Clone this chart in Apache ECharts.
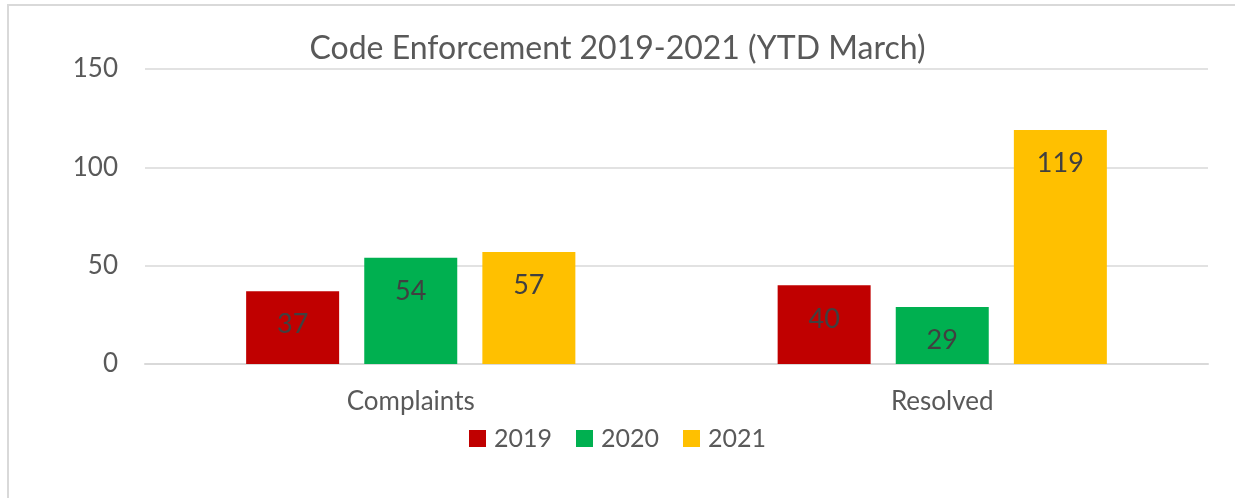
<!DOCTYPE html>
<html>
<head>
<meta charset="utf-8">
<script src="https://cdn.jsdelivr.net/npm/echarts@6/dist/echarts.min.js"></script>
<style>
  html, body { margin: 0; padding: 0; background: #fff; }
  #frame { position: absolute; left: 7px; top: 4px; width: 1240px; height: 500px;
           border-top: 2px solid #d9d9d9; border-left: 2px solid #d9d9d9; }
  #chart { position: absolute; left: 0; top: 0; width: 1235px; height: 498px; }
</style>
</head>
<body>
<div id="frame"></div>
<div id="chart"></div>
<script>
var categories = ['Complaints', 'Resolved'];
var years = ['2019', '2020', '2021'];
var values2019 = [37, 40];
var values2020 = [54, 29];
var values2021 = [57, 119];
var colors = ['#c00000', '#00b050', '#ffc000'];

var myChart = echarts.init(document.getElementById('chart'));
var font = 'Lato';

function makeSeries(name, data, color) {
    return {
        name: name,
        type: 'bar',
        data: data,
        barWidth: 93,
        barGap: '27%',
        itemStyle: { color: color },
        label: {
            show: true,
            position: 'insideTop',
            distance: 20,
            color: '#404040',
            fontSize: 27,
            fontFamily: font
        }
    };
}

var option = {
    animation: false,
    title: {
        text: 'Code Enforcement 2019-2021 (YTD March)',
        left: 'center',
        top: 28,
        textStyle: { color: '#595959', fontSize: 32, fontWeight: 'normal', fontFamily: font }
    },
    legend: {
        bottom: 42,
        left: 'center',
        itemWidth: 17,
        itemHeight: 17,
        itemGap: 24,
        icon: 'rect',
        textStyle: { color: '#595959', fontSize: 25, fontFamily: font, padding: [0, 0, 0, 3] }
    },
    grid: { left: 145, right: 27, top: 69, bottom: 134, containLabel: false },
    xAxis: {
        type: 'category',
        data: categories,
        axisLine: { lineStyle: { color: '#d9d9d9', width: 2 } },
        axisTick: { show: false },
        axisLabel: { color: '#595959', fontSize: 26, margin: 25, fontFamily: font }
    },
    yAxis: {
        type: 'value',
        min: 0,
        max: 150,
        interval: 50,
        axisLine: { show: false },
        axisTick: { show: false },
        splitLine: { lineStyle: { color: '#d9d9d9', width: 1.5 } },
        axisLabel: { color: '#595959', fontSize: 26, margin: 27, fontFamily: font }
    },
    series: [
        makeSeries(years[0], values2019, colors[0]),
        makeSeries(years[1], values2020, colors[1]),
        makeSeries(years[2], values2021, colors[2])
    ]
};
myChart.setOption(option);
</script>
</body>
</html>
